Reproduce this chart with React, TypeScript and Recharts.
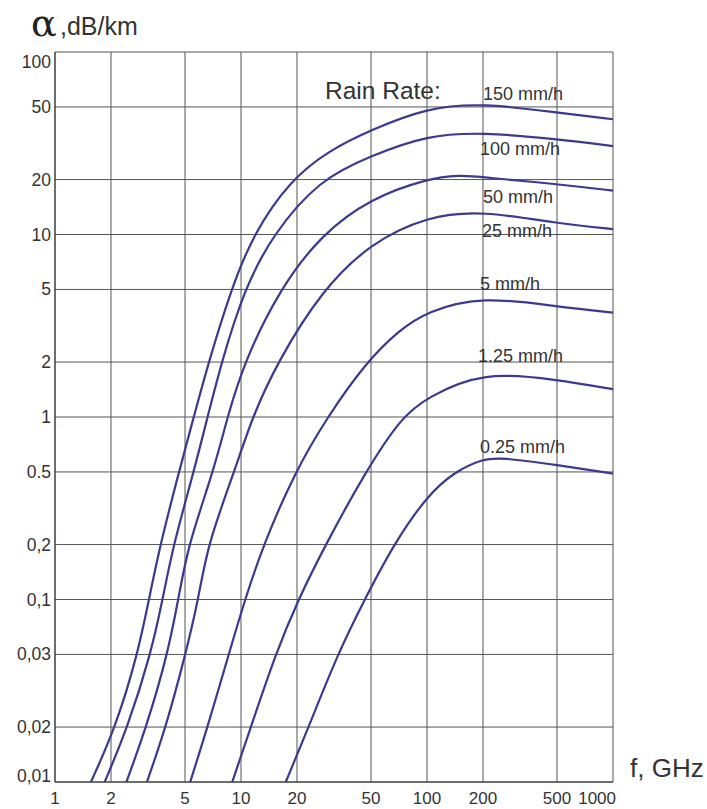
import React from "react";
import { LineChart, Line, XAxis, YAxis, CartesianGrid } from "recharts";

// frequency (GHz) ticks and specific attenuation ticks (dB/km)
const xTicks = [1, 2, 5, 10, 20, 50, 100, 200, 500, 1000];
const yTicks = [0.01, 0.02, 0.05, 0.1, 0.2, 0.5, 1, 2, 5, 10, 20, 50, 100];
// labels as printed on the original (the 0.05 line is labelled "0,03")
const yTickLabels = ["0,01", "0,02", "0,03", "0,1", "0,2", "0.5", "1", "2", "5", "10", "20", "50", "100"];

// f = frequency GHz, a = attenuation dB/km
const rain150 = [
  { f: 1.56, a: 0.01 }, { f: 2.12, a: 0.02 }, { f: 2.78, a: 0.05 }, { f: 3.2, a: 0.1 },
  { f: 3.68, a: 0.2 }, { f: 4.64, a: 0.5 }, { f: 5.57, a: 1 }, { f: 6.7, a: 2 },
  { f: 8.85, a: 5 }, { f: 11.6, a: 10 }, { f: 18.5, a: 20 }, { f: 30, a: 29 },
  { f: 50, a: 37.4 }, { f: 100, a: 49.5 }, { f: 200, a: 52.5 }, { f: 500, a: 46.5 },
  { f: 1000, a: 42.8 },
];
const rain100 = [
  { f: 1.85, a: 0.01 }, { f: 2.46, a: 0.02 }, { f: 3.27, a: 0.05 }, { f: 3.79, a: 0.1 },
  { f: 4.33, a: 0.2 }, { f: 5.57, a: 0.5 }, { f: 6.61, a: 1 }, { f: 7.86, a: 2 },
  { f: 10.4, a: 5 }, { f: 14.8, a: 10 }, { f: 26.4, a: 20 }, { f: 50, a: 27 },
  { f: 100, a: 35 }, { f: 200, a: 36.3 }, { f: 500, a: 33.3 }, { f: 1000, a: 30.5 },
];
const rain50 = [
  { f: 2.42, a: 0.01 }, { f: 3.1, a: 0.02 }, { f: 4.03, a: 0.05 }, { f: 4.6, a: 0.1 },
  { f: 5.2, a: 0.2 }, { f: 7.1, a: 0.5 }, { f: 8.45, a: 1 }, { f: 10.4, a: 2 },
  { f: 16.1, a: 5 }, { f: 27, a: 10 }, { f: 50, a: 15.8 }, { f: 100, a: 20.2 },
  { f: 150, a: 21.2 }, { f: 200, a: 20.6 }, { f: 500, a: 18.9 }, { f: 1000, a: 17.4 },
];
const rain25 = [
  { f: 3.12, a: 0.01 }, { f: 3.95, a: 0.02 }, { f: 5.03, a: 0.05 }, { f: 5.9, a: 0.1 },
  { f: 6.61, a: 0.2 }, { f: 9.2, a: 0.5 }, { f: 11.5, a: 1 }, { f: 15.7, a: 2 },
  { f: 27.4, a: 5 }, { f: 50, a: 9 }, { f: 100, a: 12.6 }, { f: 200, a: 13.5 },
  { f: 500, a: 11.5 }, { f: 1000, a: 10.7 },
];
const rain5 = [
  { f: 5.33, a: 0.01 }, { f: 6.61, a: 0.02 }, { f: 8.59, a: 0.05 }, { f: 10.5, a: 0.1 },
  { f: 13.2, a: 0.2 }, { f: 19.5, a: 0.5 }, { f: 29.1, a: 1 }, { f: 47.2, a: 2 },
  { f: 70, a: 2.96 }, { f: 100, a: 3.8 }, { f: 200, a: 4.6 }, { f: 500, a: 4.02 },
  { f: 1000, a: 3.73 },
];
const rain125 = [
  { f: 8.97, a: 0.01 }, { f: 11.3, a: 0.02 }, { f: 15.3, a: 0.05 }, { f: 20.3, a: 0.1 },
  { f: 28.5, a: 0.2 }, { f: 46.6, a: 0.5 }, { f: 73, a: 1 },
  { f: 100, a: 1.28 }, { f: 200, a: 1.78 }, { f: 500, a: 1.6 }, { f: 1000, a: 1.42 },
];
const rain025 = [
  { f: 17.4, a: 0.01 }, { f: 23.1, a: 0.02 }, { f: 33, a: 0.05 }, { f: 46.2, a: 0.1 },
  { f: 66, a: 0.2 }, { f: 100, a: 0.37 }, { f: 140, a: 0.5 }, { f: 200, a: 0.59 },
  { f: 250, a: 0.6 }, { f: 500, a: 0.546 }, { f: 1000, a: 0.49 },
];

const series = [rain150, rain100, rain50, rain25, rain5, rain125, rain025];
const seriesNames = ["150 mm/h", "100 mm/h", "50 mm/h", "25 mm/h", "5 mm/h", "1.25 mm/h", "0.25 mm/h"];
// baselines and left edges of the rate labels, in px
const labelBaselines = [100, 155, 203, 237, 290, 362, 453];
const labelLefts = [483, 480, 483, 482, 480, 478, 480];

const LINE = "#3c3a8e";
const GRID = "#555";
const TEXT = "#333";
const FONT = "'Liberation Sans', Arial, sans-serif";

function YTick(props: any) {
  const { x, y, index } = props;
  let dy = 6;
  if (index === yTicks.length - 1) dy = 16;
  if (index === 0) dy = 0;
  return (
    <text x={x} y={y} dy={dy} textAnchor="end" fontSize={17.5} fill={TEXT} fontFamily={FONT}>
      {yTickLabels[index]}
    </text>
  );
}

function XTick(props: any) {
  const { x, y, payload, index } = props;
  const last = index === xTicks.length - 1;
  return (
    <text
      x={last ? x + 3 : x}
      y={y}
      dy={22}
      textAnchor={last ? "end" : "middle"}
      fontSize={17}
      fill={TEXT}
      fontFamily={FONT}
    >
      {payload.value}
    </text>
  );
}

export default function App() {
  return (
    <div style={{ position: "absolute", left: 0, top: 0, width: 707, height: 809, background: "#fff" }}>
      <LineChart width={707} height={809} margin={{ top: 52, right: 94, bottom: 0, left: 0 }}>
        <CartesianGrid stroke={GRID} strokeWidth={1} />
        <XAxis
          dataKey="f"
          type="number"
          scale="log"
          domain={[1, 1000]}
          ticks={xTicks}
          allowDataOverflow
          height={27}
          tickLine={false}
          tickSize={0}
          tickMargin={0}
          axisLine={{ stroke: "#333" }}
          tick={<XTick />}
          interval={0}
        />
        <YAxis
          type="number"
          scale="log"
          domain={[0.01, 100]}
          ticks={yTicks}
          allowDataOverflow
          width={55}
          tickLine={false}
          tickSize={0}
          tickMargin={4}
          axisLine={{ stroke: "#333" }}
          tick={<YTick />}
          interval={0}
        />
        {series.map((d, i) => (
          <Line
            key={seriesNames[i]}
            data={d}
            dataKey="a"
            name={seriesNames[i]}
            type="basis"
            stroke={LINE}
            strokeWidth={2.2}
            dot={false}
            activeDot={false}
            isAnimationActive={false}
          />
        ))}
      </LineChart>
      <svg
        width={707}
        height={809}
        style={{ position: "absolute", left: 0, top: 0, pointerEvents: "none" }}
      >
        <text x={31} y={36} fontSize={38} fill="#222" fontFamily="'DejaVu Serif', 'Liberation Serif', serif">
          α
        </text>
        <text x={60} y={35} fontSize={25} fill={TEXT} fontFamily={FONT}>
          ,dB/km
        </text>
        <text x={630} y={777} fontSize={26} fill={TEXT} fontFamily={FONT}>
          f, GHz
        </text>
        <text x={325} y={99} fontSize={24.5} fill={TEXT} fontFamily={FONT}>
          Rain Rate:
        </text>
        {seriesNames.map((n, i) => (
          <text key={n} x={labelLefts[i]} y={labelBaselines[i]} fontSize={18} fill={TEXT} fontFamily={FONT}>
            {n}
          </text>
        ))}
      </svg>
    </div>
  );
}
